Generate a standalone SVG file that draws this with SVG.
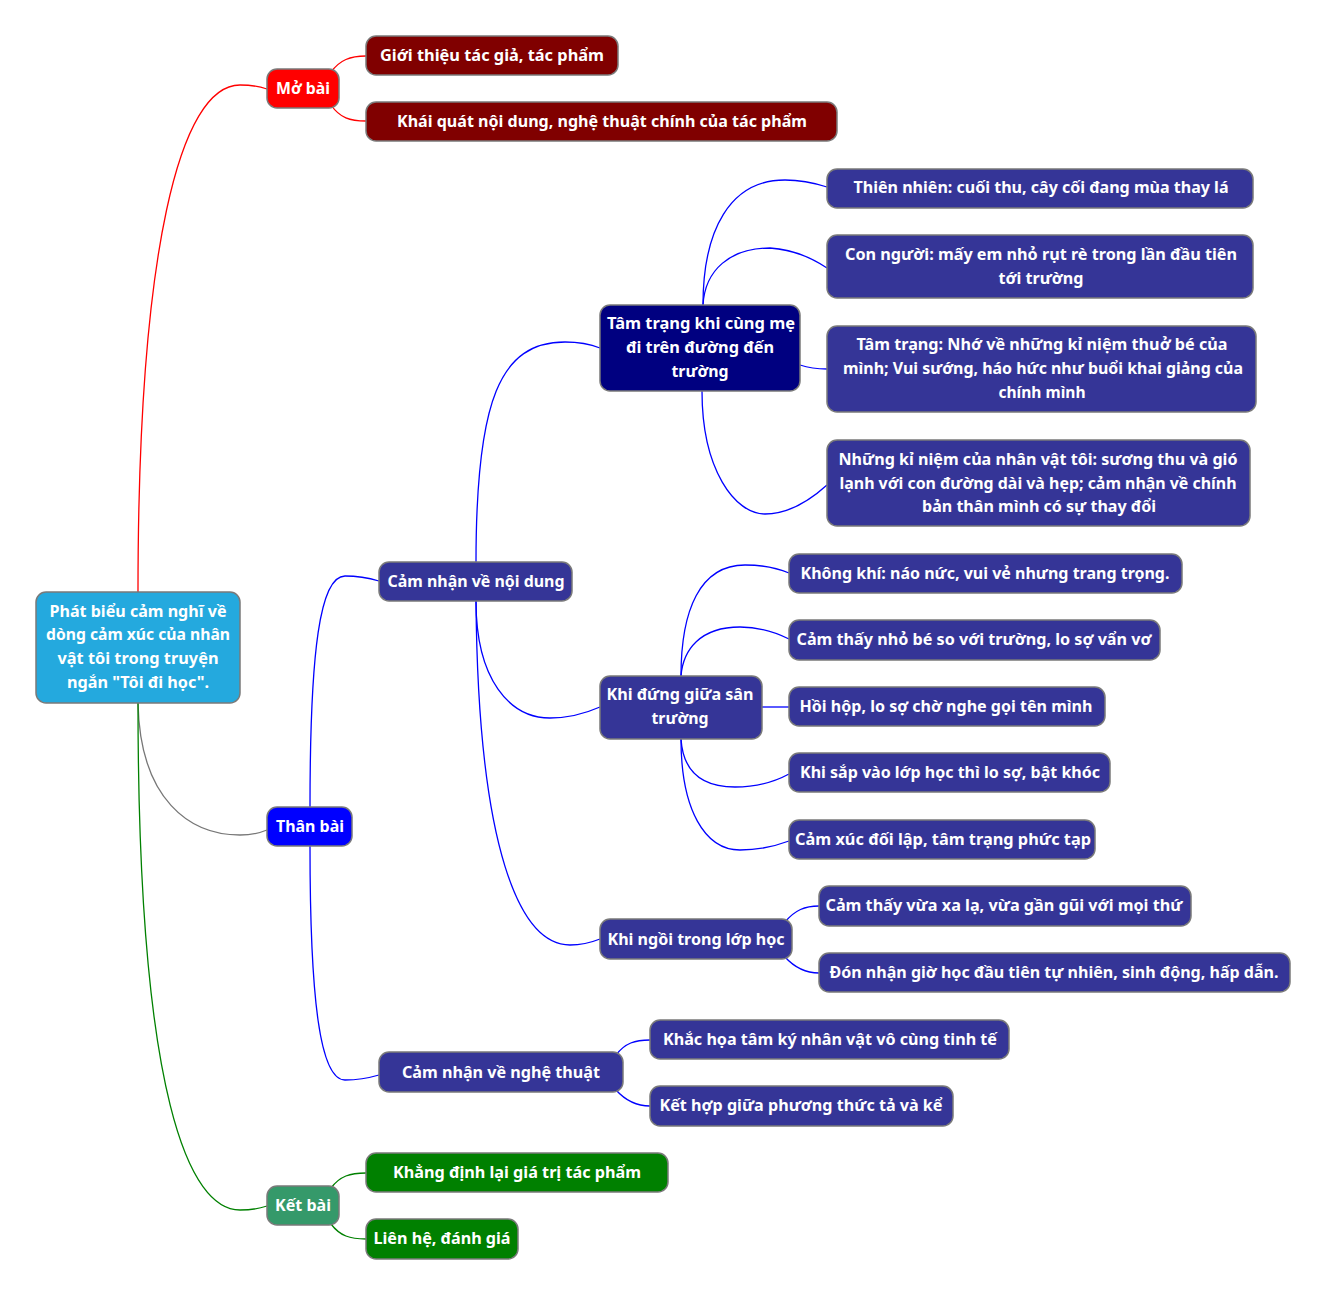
<svg xmlns="http://www.w3.org/2000/svg" width="1328" height="1297" viewBox="0 0 1328 1297">
<style>
.n rect{stroke:#7a7a7a;stroke-width:1.5}
.n text{font-family:"Noto Sans","Open Sans","DejaVu Sans",sans-serif;font-weight:bold;font-size:16px;fill:#fff;text-anchor:middle;dominant-baseline:central}
.c path{fill:none;stroke-width:1.3}
.red{stroke:#ff0000}.gray{stroke:#777}.green{stroke:#008000}.blue{stroke:#0000ff}
.root{fill:#24a9de}.mb{fill:#ff0000}.dr{fill:#800000}.tb{fill:#0000ff}.nv{fill:#000080}.bl{fill:#353597}.kb{fill:#35996a}.gr{fill:#008000}
</style>
<rect width="1328" height="1297" fill="#fff"/>
<g id="connectors" class="c">
<path class="red" d="M138,592 C138,250 180,85 240,85 Q255,85 267,89"/>
<path class="gray" d="M138,703 C140,800 190,835 240,835 Q255,835 267,830"/>
<path class="green" d="M138,703 C138,1100 190,1210 240,1210 Q255,1210 267,1206"/>
<path class="red" d="M331,72 C340,60 350,56 366,56"/>
<path class="red" d="M331,105 C340,118 350,121 366,121"/>
<path class="blue" d="M310,807 C310,650 320,576 345,576 Q362,576 379,581"/>
<path class="blue" d="M310,846 C310,1000 320,1080 345,1080 Q362,1080 379,1075"/>
<path class="blue" d="M476,562 C476,400 500,342 565,342 Q585,342 600,348"/>
<path class="blue" d="M476,601 C476,680 510,718 550,718 Q575,718 600,707"/>
<path class="blue" d="M476,601 C478,850 520,945 570,945 Q585,945 600,939"/>
<path class="blue" d="M703,305 C703,230 730,180 785,180 Q805,180 827,187"/>
<path class="blue" d="M703,305 C705,270 730,248 770,248 Q800,250 827,268"/>
<path class="blue" d="M800,365 Q812,369 827,369"/>
<path class="blue" d="M702,391 C702,470 735,514 765,514 Q795,514 827,485"/>
<path class="blue" d="M681,676 C681,610 700,565 745,565 Q770,565 789,573"/>
<path class="blue" d="M681,676 C683,650 700,627 740,627 Q765,627 789,639"/>
<path class="blue" d="M762,707 L789,707"/>
<path class="blue" d="M681,739 C683,770 700,787 735,787 Q765,787 789,774"/>
<path class="blue" d="M681,739 C681,810 705,850 740,850 Q765,850 789,841"/>
<path class="blue" d="M785,922 C795,910 805,906 819,906"/>
<path class="blue" d="M785,957 C795,968 805,973 819,973"/>
<path class="blue" d="M616,1055 C625,1043 635,1040 650,1040"/>
<path class="blue" d="M616,1090 C625,1100 635,1106 650,1106"/>
<path class="green" d="M331,1188 C340,1176 350,1173 366,1173"/>
<path class="green" d="M331,1224 C340,1236 350,1239 366,1239"/>
</g>
<g id="root" class="n"><rect class="root" x="36" y="592" width="204" height="111" rx="10"/>
<text x="138" y="611" textLength="177" lengthAdjust="spacingAndGlyphs">Phát biểu cảm nghĩ về</text>
<text x="138" y="634" textLength="184" lengthAdjust="spacingAndGlyphs">dòng cảm xúc của nhân</text>
<text x="138" y="658" textLength="161" lengthAdjust="spacingAndGlyphs">vật tôi trong truyện</text>
<text x="138" y="682" textLength="142" lengthAdjust="spacingAndGlyphs">ngắn "Tôi đi học".</text></g>
<g id="mobai" class="n"><rect class="mb" x="267" y="69" width="72" height="39" rx="10"/><text x="303" y="88" textLength="54" lengthAdjust="spacingAndGlyphs">Mở bài</text></g>
<g id="mb1" class="n"><rect class="dr" x="366" y="36" width="252" height="39" rx="10"/><text x="492" y="55" textLength="224" lengthAdjust="spacingAndGlyphs">Giới thiệu tác giả, tác phẩm</text></g>
<g id="mb2" class="n"><rect class="dr" x="366" y="102" width="471" height="39" rx="10"/><text x="602" y="121" textLength="410" lengthAdjust="spacingAndGlyphs">Khái quát nội dung, nghệ thuật chính của tác phẩm</text></g>
<g id="thanbai" class="n"><rect class="tb" x="267" y="807" width="85" height="39" rx="10"/><text x="310" y="826" textLength="68" lengthAdjust="spacingAndGlyphs">Thân bài</text></g>
<g id="noidung" class="n"><rect class="bl" x="379" y="562" width="193" height="39" rx="10"/><text x="476" y="581" textLength="177" lengthAdjust="spacingAndGlyphs">Cảm nhận về nội dung</text></g>
<g id="tamtrang" class="n"><rect class="nv" x="600" y="305" width="200" height="86" rx="10"/>
<text x="701" y="323" textLength="188" lengthAdjust="spacingAndGlyphs">Tâm trạng khi cùng mẹ</text>
<text x="700" y="347" textLength="148" lengthAdjust="spacingAndGlyphs">đi trên đường đến</text>
<text x="700" y="371" textLength="57" lengthAdjust="spacingAndGlyphs">trường</text></g>
<g id="tt1" class="n"><rect class="bl" x="827" y="169" width="426" height="39" rx="10"/><text x="1041" y="187" textLength="375" lengthAdjust="spacingAndGlyphs">Thiên nhiên: cuối thu, cây cối đang mùa thay lá</text></g>
<g id="tt2" class="n"><rect class="bl" x="827" y="235" width="426" height="63" rx="10"/>
<text x="1041" y="254" textLength="392" lengthAdjust="spacingAndGlyphs">Con người: mấy em nhỏ rụt rè trong lần đầu tiên</text>
<text x="1041" y="278" textLength="85" lengthAdjust="spacingAndGlyphs">tới trường</text></g>
<g id="tt3" class="n"><rect class="bl" x="827" y="326" width="429" height="86" rx="10"/>
<text x="1042" y="344" textLength="371" lengthAdjust="spacingAndGlyphs">Tâm trạng: Nhớ về những kỉ niệm thuở bé của</text>
<text x="1043" y="368" textLength="400" lengthAdjust="spacingAndGlyphs">mình; Vui sướng, háo hức như buổi khai giảng của</text>
<text x="1042" y="392" textLength="87" lengthAdjust="spacingAndGlyphs">chính mình</text></g>
<g id="tt4" class="n"><rect class="bl" x="827" y="440" width="423" height="86" rx="10"/>
<text x="1038" y="459" textLength="399" lengthAdjust="spacingAndGlyphs">Những kỉ niệm của nhân vật tôi: sương thu và gió</text>
<text x="1038" y="483" textLength="397" lengthAdjust="spacingAndGlyphs">lạnh với con đường dài và hẹp; cảm nhận về chính</text>
<text x="1039" y="506" textLength="234" lengthAdjust="spacingAndGlyphs">bản thân mình có sự thay đổi</text></g>
<g id="santruong" class="n"><rect class="bl" x="600" y="676" width="162" height="63" rx="10"/>
<text x="680" y="694" textLength="147" lengthAdjust="spacingAndGlyphs">Khi đứng giữa sân</text>
<text x="680" y="718" textLength="57" lengthAdjust="spacingAndGlyphs">trường</text></g>
<g id="st1" class="n"><rect class="bl" x="789" y="554" width="393" height="39" rx="10"/><text x="985" y="573" textLength="369" lengthAdjust="spacingAndGlyphs">Không khí: náo nức, vui vẻ nhưng trang trọng.</text></g>
<g id="st2" class="n"><rect class="bl" x="789" y="620" width="371" height="40" rx="10"/><text x="974" y="639" textLength="355" lengthAdjust="spacingAndGlyphs">Cảm thấy nhỏ bé so với trường, lo sợ vẩn vơ</text></g>
<g id="st3" class="n"><rect class="bl" x="789" y="687" width="316" height="39" rx="10"/><text x="946" y="706" textLength="293" lengthAdjust="spacingAndGlyphs">Hồi hộp, lo sợ chờ nghe gọi tên mình</text></g>
<g id="st4" class="n"><rect class="bl" x="789" y="753" width="321" height="39" rx="10"/><text x="950" y="772" textLength="300" lengthAdjust="spacingAndGlyphs">Khi sắp vào lớp học thì lo sợ, bật khóc</text></g>
<g id="st5" class="n"><rect class="bl" x="789" y="820" width="306" height="39" rx="10"/><text x="943" y="839" textLength="296" lengthAdjust="spacingAndGlyphs">Cảm xúc đối lập, tâm trạng phức tạp</text></g>
<g id="lophoc" class="n"><rect class="bl" x="600" y="919" width="192" height="40" rx="10"/><text x="696" y="939" textLength="177" lengthAdjust="spacingAndGlyphs">Khi ngồi trong lớp học</text></g>
<g id="lh1" class="n"><rect class="bl" x="819" y="886" width="372" height="40" rx="10"/><text x="1004" y="905" textLength="357" lengthAdjust="spacingAndGlyphs">Cảm thấy vừa xa lạ, vừa gần gũi với mọi thứ</text></g>
<g id="lh2" class="n"><rect class="bl" x="819" y="953" width="471" height="39" rx="10"/><text x="1054" y="972" textLength="449" lengthAdjust="spacingAndGlyphs">Đón nhận giờ học đầu tiên tự nhiên, sinh động, hấp dẫn.</text></g>
<g id="nghethuat" class="n"><rect class="bl" x="379" y="1052" width="244" height="40" rx="10"/><text x="501" y="1072" textLength="198" lengthAdjust="spacingAndGlyphs">Cảm nhận về nghệ thuật</text></g>
<g id="nt1" class="n"><rect class="bl" x="650" y="1020" width="359" height="39" rx="10"/><text x="830" y="1039" textLength="334" lengthAdjust="spacingAndGlyphs">Khắc họa tâm ký nhân vật vô cùng tinh tế</text></g>
<g id="nt2" class="n"><rect class="bl" x="650" y="1086" width="303" height="40" rx="10"/><text x="801" y="1105" textLength="283" lengthAdjust="spacingAndGlyphs">Kết hợp giữa phương thức tả và kể</text></g>
<g id="ketbai" class="n"><rect class="kb" x="267" y="1186" width="72" height="39" rx="10"/><text x="303" y="1205" textLength="56" lengthAdjust="spacingAndGlyphs">Kết bài</text></g>
<g id="kb1" class="n"><rect class="gr" x="366" y="1153" width="302" height="39" rx="10"/><text x="517" y="1172" textLength="248" lengthAdjust="spacingAndGlyphs">Khẳng định lại giá trị tác phẩm</text></g>
<g id="kb2" class="n"><rect class="gr" x="366" y="1219" width="152" height="40" rx="10"/><text x="442" y="1238" textLength="137" lengthAdjust="spacingAndGlyphs">Liên hệ, đánh giá</text></g>
</svg>
